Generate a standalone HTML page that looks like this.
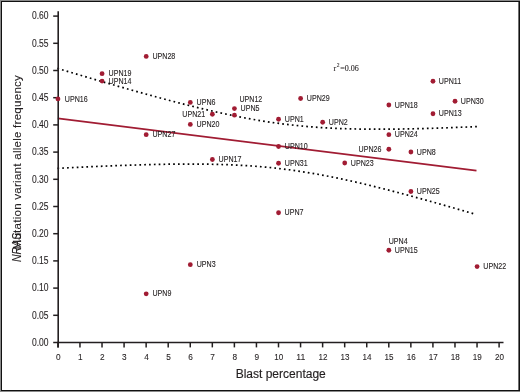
<!DOCTYPE html><html><head><meta charset="utf-8"><style>html,body{margin:0;padding:0;background:#fff;}body{width:520px;height:392px;overflow:hidden;}svg{display:block;will-change:transform;}text{font-family:"Liberation Sans",sans-serif;}</style></head><body>
<svg width="520" height="392" viewBox="0 0 520 392">
<rect x="0" y="0" width="520" height="392" fill="#fff"/>
<rect x="0" y="0" width="520" height="1" fill="#8a8a8a"/>
<rect x="0" y="0" width="1" height="392" fill="#8a8a8a"/>
<rect x="0" y="391" width="520" height="1" fill="#8a8a8a"/>
<rect x="518" y="2" width="1" height="388" fill="#707070"/>
<rect x="1" y="1" width="519" height="1" fill="#111"/>
<rect x="1" y="1" width="1" height="390" fill="#111"/>
<rect x="1" y="390" width="519" height="1" fill="#111"/>
<rect x="519" y="1" width="1" height="390" fill="#111"/>
<path d="M57.39 68.38L59.01 68.87M62.01 69.77L63.64 70.26M66.64 71.15L68.27 71.64M71.27 72.53L72.90 73.02M75.90 73.91L77.53 74.39M80.53 75.28L82.16 75.76M85.16 76.65L86.79 77.13M89.79 78.02L91.42 78.49M94.43 79.38L96.06 79.85M99.06 80.73L100.69 81.21M103.70 82.08L105.33 82.56M108.34 83.43L109.97 83.90M112.98 84.77L114.61 85.24M117.62 86.10L119.25 86.57M122.26 87.43L123.90 87.89M126.91 88.75L128.54 89.21M131.56 90.06L133.19 90.52M136.20 91.37L137.84 91.83M140.86 92.67L142.49 93.12M145.51 93.96L147.15 94.41M150.17 95.24L151.81 95.69M154.83 96.51L156.47 96.96M159.49 97.77L161.13 98.22M164.15 99.03L165.80 99.46M168.82 100.27L170.46 100.70M173.49 101.49L175.14 101.92M178.17 102.71L179.81 103.13M182.84 103.91L184.49 104.33M187.53 105.09L189.18 105.51M192.21 106.26L193.86 106.67M196.90 107.42L198.55 107.82M201.60 108.55L203.25 108.95M206.30 109.67L207.95 110.05M211.00 110.76L212.66 111.14M215.71 111.84L217.37 112.21M220.42 112.89L222.08 113.25M225.14 113.91L226.80 114.27M229.87 114.92L231.53 115.26M234.60 115.89L236.26 116.23M239.33 116.83L241.00 117.16M244.08 117.75L245.75 118.07M248.82 118.63L250.50 118.94M253.58 119.49L255.25 119.78M258.34 120.30L260.01 120.58M263.10 121.09L264.78 121.35M267.87 121.83L269.56 122.09M272.65 122.54L274.33 122.78M277.43 123.21L279.12 123.44M282.22 123.85L283.91 124.06M287.02 124.44L288.70 124.64M291.81 125.00L293.50 125.18M296.62 125.51L298.31 125.69M301.42 125.99L303.11 126.15M306.23 126.43L307.92 126.58M311.04 126.83L312.74 126.97M315.86 127.20L317.55 127.32M320.68 127.53L322.37 127.64M325.50 127.83L327.20 127.93M330.32 128.09L332.02 128.18M335.14 128.32L336.84 128.40M339.97 128.53L341.67 128.59M344.80 128.70L346.50 128.75M349.62 128.84L351.32 128.89M354.45 128.96L356.15 129.00M359.28 129.06L360.98 129.08M364.11 129.13L365.81 129.15M368.94 129.17L370.64 129.19M373.77 129.20L375.47 129.21M378.60 129.21L380.30 129.21M383.43 129.20L385.13 129.19M388.26 129.17L389.96 129.16M393.09 129.13L394.79 129.11M397.92 129.07L399.62 129.04M402.75 128.99L404.45 128.97M407.57 128.91L409.27 128.87M412.40 128.81L414.10 128.77M417.23 128.70L418.93 128.65M422.06 128.57L423.76 128.53M426.89 128.44L428.59 128.39M431.72 128.30L433.41 128.24M436.54 128.15L438.24 128.09M441.37 127.98L443.07 127.93M446.20 127.82L447.90 127.75M451.02 127.64L452.72 127.58M455.85 127.46L457.55 127.39M460.67 127.26L462.37 127.20M465.50 127.07L467.20 127.00M470.33 126.86L472.02 126.79M475.15 126.65L476.85 126.58" fill="none" stroke="#000" stroke-width="1.7"/>
<path d="M57.45 168.31L59.15 168.23M62.27 168.07L63.97 167.98M67.09 167.83L68.79 167.75M71.91 167.59L73.60 167.51M76.73 167.36L78.42 167.28M81.54 167.14L83.24 167.06M86.36 166.92L88.06 166.84M91.18 166.70L92.88 166.62M96.00 166.49L97.70 166.42M100.82 166.28L102.52 166.21M105.64 166.08L107.34 166.01M110.46 165.89L112.16 165.82M115.28 165.70L116.98 165.64M120.11 165.52L121.80 165.46M124.93 165.35L126.63 165.29M129.75 165.19L131.45 165.13M134.57 165.03L136.27 164.98M139.39 164.88L141.09 164.83M144.21 164.75L145.91 164.70M149.04 164.62L150.74 164.58M153.86 164.50L155.56 164.46M158.68 164.40L160.38 164.36M163.51 164.30L165.21 164.27M168.33 164.22L170.03 164.20M173.15 164.16L174.85 164.14M177.98 164.11L179.68 164.09M182.80 164.07L184.50 164.06M187.63 164.05L189.33 164.05M192.45 164.05L194.15 164.06M197.28 164.07L198.98 164.08M202.10 164.11L203.80 164.13M206.92 164.17L208.62 164.20M211.75 164.25L213.45 164.29M216.57 164.36L218.27 164.40M221.39 164.49L223.09 164.54M226.21 164.65L227.91 164.71M231.04 164.84L232.73 164.91M235.85 165.05L237.55 165.14M240.67 165.30L242.37 165.40M245.49 165.58L247.19 165.69M250.30 165.90L252.00 166.01M255.11 166.25L256.81 166.38M259.92 166.63L261.62 166.77M264.73 167.05L266.42 167.21M269.53 167.51L271.22 167.68M274.33 168.01L276.02 168.19M279.13 168.54L280.81 168.74M283.92 169.12L285.60 169.33M288.70 169.73L290.39 169.96M293.48 170.39L295.16 170.62M298.26 171.08L299.94 171.33M303.02 171.80L304.70 172.07M307.79 172.57L309.47 172.84M312.55 173.37L314.22 173.66M317.30 174.20L318.97 174.50M322.04 175.07L323.71 175.38M326.78 175.97L328.45 176.29M331.52 176.90L333.18 177.23M336.24 177.86L337.91 178.20M340.97 178.84L342.63 179.20M345.68 179.86L347.34 180.22M350.40 180.89L352.05 181.26M355.10 181.95L356.76 182.33M359.80 183.04L361.46 183.43M364.50 184.14L366.15 184.54M369.19 185.27L370.84 185.67M373.88 186.41L375.53 186.82M378.56 187.57L380.21 187.98M383.24 188.75L384.89 189.16M387.91 189.94L389.56 190.36M392.58 191.14L394.23 191.57M397.25 192.36L398.90 192.80M401.92 193.60L403.56 194.03M406.58 194.84L408.22 195.28M411.24 196.09L412.88 196.54M415.89 197.36L417.53 197.81M420.54 198.63L422.18 199.09M425.19 199.92L426.83 200.37M429.84 201.21L431.48 201.67M434.49 202.51L436.12 202.97M439.13 203.82L440.77 204.29M443.77 205.14L445.41 205.60M448.41 206.46L450.05 206.93M453.05 207.79L454.68 208.26M457.69 209.13L459.32 209.60M462.32 210.47L463.95 210.94M466.95 211.81L468.59 212.29M471.58 213.16L473.22 213.64" fill="none" stroke="#000" stroke-width="1.7"/>
<line x1="57.8" y1="118.4" x2="476.5" y2="170.6" stroke="#a11c33" stroke-width="1.6"/>
<line x1="58.2" y1="11.3" x2="58.2" y2="347.5" stroke="#231f20" stroke-width="1.6"/>
<line x1="57.4" y1="342.5" x2="503.5" y2="342.5" stroke="#231f20" stroke-width="1.5"/>
<line x1="53.2" y1="342.50" x2="58" y2="342.50" stroke="#231f20" stroke-width="1.5"/>
<text x="48.6" y="345.70" font-size="10" text-anchor="end" fill="#231f20" stroke="#231f20" stroke-width="0.1" textLength="16.6" lengthAdjust="spacingAndGlyphs">0.00</text>
<line x1="53.2" y1="315.30" x2="58" y2="315.30" stroke="#231f20" stroke-width="1.5"/>
<text x="48.6" y="318.50" font-size="10" text-anchor="end" fill="#231f20" stroke="#231f20" stroke-width="0.1" textLength="16.6" lengthAdjust="spacingAndGlyphs">0.05</text>
<line x1="53.2" y1="288.10" x2="58" y2="288.10" stroke="#231f20" stroke-width="1.5"/>
<text x="48.6" y="291.30" font-size="10" text-anchor="end" fill="#231f20" stroke="#231f20" stroke-width="0.1" textLength="16.6" lengthAdjust="spacingAndGlyphs">0.10</text>
<line x1="53.2" y1="260.90" x2="58" y2="260.90" stroke="#231f20" stroke-width="1.5"/>
<text x="48.6" y="264.10" font-size="10" text-anchor="end" fill="#231f20" stroke="#231f20" stroke-width="0.1" textLength="16.6" lengthAdjust="spacingAndGlyphs">0.15</text>
<line x1="53.2" y1="233.70" x2="58" y2="233.70" stroke="#231f20" stroke-width="1.5"/>
<text x="48.6" y="236.90" font-size="10" text-anchor="end" fill="#231f20" stroke="#231f20" stroke-width="0.1" textLength="16.6" lengthAdjust="spacingAndGlyphs">0.20</text>
<line x1="53.2" y1="206.50" x2="58" y2="206.50" stroke="#231f20" stroke-width="1.5"/>
<text x="48.6" y="209.70" font-size="10" text-anchor="end" fill="#231f20" stroke="#231f20" stroke-width="0.1" textLength="16.6" lengthAdjust="spacingAndGlyphs">0.25</text>
<line x1="53.2" y1="179.30" x2="58" y2="179.30" stroke="#231f20" stroke-width="1.5"/>
<text x="48.6" y="182.50" font-size="10" text-anchor="end" fill="#231f20" stroke="#231f20" stroke-width="0.1" textLength="16.6" lengthAdjust="spacingAndGlyphs">0.30</text>
<line x1="53.2" y1="152.10" x2="58" y2="152.10" stroke="#231f20" stroke-width="1.5"/>
<text x="48.6" y="155.30" font-size="10" text-anchor="end" fill="#231f20" stroke="#231f20" stroke-width="0.1" textLength="16.6" lengthAdjust="spacingAndGlyphs">0.35</text>
<line x1="53.2" y1="124.90" x2="58" y2="124.90" stroke="#231f20" stroke-width="1.5"/>
<text x="48.6" y="128.10" font-size="10" text-anchor="end" fill="#231f20" stroke="#231f20" stroke-width="0.1" textLength="16.6" lengthAdjust="spacingAndGlyphs">0.40</text>
<line x1="53.2" y1="97.70" x2="58" y2="97.70" stroke="#231f20" stroke-width="1.5"/>
<text x="48.6" y="100.90" font-size="10" text-anchor="end" fill="#231f20" stroke="#231f20" stroke-width="0.1" textLength="16.6" lengthAdjust="spacingAndGlyphs">0.45</text>
<line x1="53.2" y1="70.50" x2="58" y2="70.50" stroke="#231f20" stroke-width="1.5"/>
<text x="48.6" y="73.70" font-size="10" text-anchor="end" fill="#231f20" stroke="#231f20" stroke-width="0.1" textLength="16.6" lengthAdjust="spacingAndGlyphs">0.50</text>
<line x1="53.2" y1="43.30" x2="58" y2="43.30" stroke="#231f20" stroke-width="1.5"/>
<text x="48.6" y="46.50" font-size="10" text-anchor="end" fill="#231f20" stroke="#231f20" stroke-width="0.1" textLength="16.6" lengthAdjust="spacingAndGlyphs">0.55</text>
<line x1="53.2" y1="16.10" x2="58" y2="16.10" stroke="#231f20" stroke-width="1.5"/>
<text x="48.6" y="19.30" font-size="10" text-anchor="end" fill="#231f20" stroke="#231f20" stroke-width="0.1" textLength="16.6" lengthAdjust="spacingAndGlyphs">0.60</text>
<line x1="57.90" y1="342.5" x2="57.90" y2="347.4" stroke="#231f20" stroke-width="1.5"/>
<text x="58.20" y="359.9" font-size="9.3" text-anchor="middle" fill="#231f20" stroke="#231f20" stroke-width="0.1" textLength="4.6" lengthAdjust="spacingAndGlyphs">0</text>
<line x1="79.96" y1="342.5" x2="79.96" y2="347.4" stroke="#231f20" stroke-width="1.5"/>
<text x="80.26" y="359.9" font-size="9.3" text-anchor="middle" fill="#231f20" stroke="#231f20" stroke-width="0.1" textLength="4.6" lengthAdjust="spacingAndGlyphs">1</text>
<line x1="102.02" y1="342.5" x2="102.02" y2="347.4" stroke="#231f20" stroke-width="1.5"/>
<text x="102.32" y="359.9" font-size="9.3" text-anchor="middle" fill="#231f20" stroke="#231f20" stroke-width="0.1" textLength="4.6" lengthAdjust="spacingAndGlyphs">2</text>
<line x1="124.08" y1="342.5" x2="124.08" y2="347.4" stroke="#231f20" stroke-width="1.5"/>
<text x="124.38" y="359.9" font-size="9.3" text-anchor="middle" fill="#231f20" stroke="#231f20" stroke-width="0.1" textLength="4.6" lengthAdjust="spacingAndGlyphs">3</text>
<line x1="146.14" y1="342.5" x2="146.14" y2="347.4" stroke="#231f20" stroke-width="1.5"/>
<text x="146.44" y="359.9" font-size="9.3" text-anchor="middle" fill="#231f20" stroke="#231f20" stroke-width="0.1" textLength="4.6" lengthAdjust="spacingAndGlyphs">4</text>
<line x1="168.20" y1="342.5" x2="168.20" y2="347.4" stroke="#231f20" stroke-width="1.5"/>
<text x="168.50" y="359.9" font-size="9.3" text-anchor="middle" fill="#231f20" stroke="#231f20" stroke-width="0.1" textLength="4.6" lengthAdjust="spacingAndGlyphs">5</text>
<line x1="190.26" y1="342.5" x2="190.26" y2="347.4" stroke="#231f20" stroke-width="1.5"/>
<text x="190.56" y="359.9" font-size="9.3" text-anchor="middle" fill="#231f20" stroke="#231f20" stroke-width="0.1" textLength="4.6" lengthAdjust="spacingAndGlyphs">6</text>
<line x1="212.32" y1="342.5" x2="212.32" y2="347.4" stroke="#231f20" stroke-width="1.5"/>
<text x="212.62" y="359.9" font-size="9.3" text-anchor="middle" fill="#231f20" stroke="#231f20" stroke-width="0.1" textLength="4.6" lengthAdjust="spacingAndGlyphs">7</text>
<line x1="234.38" y1="342.5" x2="234.38" y2="347.4" stroke="#231f20" stroke-width="1.5"/>
<text x="234.68" y="359.9" font-size="9.3" text-anchor="middle" fill="#231f20" stroke="#231f20" stroke-width="0.1" textLength="4.6" lengthAdjust="spacingAndGlyphs">8</text>
<line x1="256.44" y1="342.5" x2="256.44" y2="347.4" stroke="#231f20" stroke-width="1.5"/>
<text x="256.74" y="359.9" font-size="9.3" text-anchor="middle" fill="#231f20" stroke="#231f20" stroke-width="0.1" textLength="4.6" lengthAdjust="spacingAndGlyphs">9</text>
<line x1="278.50" y1="342.5" x2="278.50" y2="347.4" stroke="#231f20" stroke-width="1.5"/>
<text x="278.80" y="359.9" font-size="9.3" text-anchor="middle" fill="#231f20" stroke="#231f20" stroke-width="0.1" textLength="9.0" lengthAdjust="spacingAndGlyphs">10</text>
<line x1="300.56" y1="342.5" x2="300.56" y2="347.4" stroke="#231f20" stroke-width="1.5"/>
<text x="300.86" y="359.9" font-size="9.3" text-anchor="middle" fill="#231f20" stroke="#231f20" stroke-width="0.1" textLength="9.0" lengthAdjust="spacingAndGlyphs">11</text>
<line x1="322.62" y1="342.5" x2="322.62" y2="347.4" stroke="#231f20" stroke-width="1.5"/>
<text x="322.92" y="359.9" font-size="9.3" text-anchor="middle" fill="#231f20" stroke="#231f20" stroke-width="0.1" textLength="9.0" lengthAdjust="spacingAndGlyphs">12</text>
<line x1="344.68" y1="342.5" x2="344.68" y2="347.4" stroke="#231f20" stroke-width="1.5"/>
<text x="344.98" y="359.9" font-size="9.3" text-anchor="middle" fill="#231f20" stroke="#231f20" stroke-width="0.1" textLength="9.0" lengthAdjust="spacingAndGlyphs">13</text>
<line x1="366.74" y1="342.5" x2="366.74" y2="347.4" stroke="#231f20" stroke-width="1.5"/>
<text x="367.04" y="359.9" font-size="9.3" text-anchor="middle" fill="#231f20" stroke="#231f20" stroke-width="0.1" textLength="9.0" lengthAdjust="spacingAndGlyphs">14</text>
<line x1="388.80" y1="342.5" x2="388.80" y2="347.4" stroke="#231f20" stroke-width="1.5"/>
<text x="389.10" y="359.9" font-size="9.3" text-anchor="middle" fill="#231f20" stroke="#231f20" stroke-width="0.1" textLength="9.0" lengthAdjust="spacingAndGlyphs">15</text>
<line x1="410.86" y1="342.5" x2="410.86" y2="347.4" stroke="#231f20" stroke-width="1.5"/>
<text x="411.16" y="359.9" font-size="9.3" text-anchor="middle" fill="#231f20" stroke="#231f20" stroke-width="0.1" textLength="9.0" lengthAdjust="spacingAndGlyphs">16</text>
<line x1="432.92" y1="342.5" x2="432.92" y2="347.4" stroke="#231f20" stroke-width="1.5"/>
<text x="433.22" y="359.9" font-size="9.3" text-anchor="middle" fill="#231f20" stroke="#231f20" stroke-width="0.1" textLength="9.0" lengthAdjust="spacingAndGlyphs">17</text>
<line x1="454.98" y1="342.5" x2="454.98" y2="347.4" stroke="#231f20" stroke-width="1.5"/>
<text x="455.28" y="359.9" font-size="9.3" text-anchor="middle" fill="#231f20" stroke="#231f20" stroke-width="0.1" textLength="9.0" lengthAdjust="spacingAndGlyphs">18</text>
<line x1="477.04" y1="342.5" x2="477.04" y2="347.4" stroke="#231f20" stroke-width="1.5"/>
<text x="477.34" y="359.9" font-size="9.3" text-anchor="middle" fill="#231f20" stroke="#231f20" stroke-width="0.1" textLength="9.0" lengthAdjust="spacingAndGlyphs">19</text>
<line x1="499.10" y1="342.5" x2="499.10" y2="347.4" stroke="#231f20" stroke-width="1.5"/>
<text x="499.40" y="359.9" font-size="9.3" text-anchor="middle" fill="#231f20" stroke="#231f20" stroke-width="0.1" textLength="9.0" lengthAdjust="spacingAndGlyphs">20</text>
<g transform="translate(21.3,0) rotate(-90)"><text x="-249.5" y="0" font-size="11.6" fill="#231f20" stroke="#231f20" stroke-width="0.1" textLength="174.4" lengthAdjust="spacing">Mutation variant allele frequency</text><text x="-262" y="0" font-size="12" font-style="italic" fill="#231f20" stroke="#231f20" stroke-width="0.1" textLength="29" lengthAdjust="spacingAndGlyphs">NRAS</text></g>
<text x="235.7" y="378.1" font-size="12" fill="#231f20" stroke="#231f20" stroke-width="0.15">Blast percentage</text>
<text x="333.6" y="70.6" font-family="Liberation Serif" style="font-family:'Liberation Serif',serif" font-size="8" fill="#231f20" stroke="#231f20" stroke-width="0.1">r<tspan dy="-3.6" dx="0.5" font-size="5.5">2</tspan><tspan dy="3.6" dx="0.8">=0.06</tspan></text>
<circle cx="57.95" cy="98.95" r="2.4" fill="#a11c33"/>
<text transform="translate(64.80,101.60) scale(0.855,1)" font-size="8.3" fill="#231f20" stroke="#231f20" stroke-width="0.12">UPN16</text>
<circle cx="102.07" cy="73.65" r="2.4" fill="#a11c33"/>
<text transform="translate(108.60,76.30) scale(0.855,1)" font-size="8.3" fill="#231f20" stroke="#231f20" stroke-width="0.12">UPN19</text>
<circle cx="102.07" cy="81.05" r="2.4" fill="#a11c33"/>
<text transform="translate(108.60,83.70) scale(0.855,1)" font-size="8.3" fill="#231f20" stroke="#231f20" stroke-width="0.12">UPN14</text>
<circle cx="146.19" cy="56.40" r="2.4" fill="#a11c33"/>
<text transform="translate(152.45,59.05) scale(0.855,1)" font-size="8.3" fill="#231f20" stroke="#231f20" stroke-width="0.12">UPN28</text>
<circle cx="146.19" cy="134.65" r="2.4" fill="#a11c33"/>
<text transform="translate(152.50,137.30) scale(0.855,1)" font-size="8.3" fill="#231f20" stroke="#231f20" stroke-width="0.12">UPN27</text>
<circle cx="146.19" cy="293.80" r="2.4" fill="#a11c33"/>
<text transform="translate(152.50,296.45) scale(0.855,1)" font-size="8.3" fill="#231f20" stroke="#231f20" stroke-width="0.12">UPN9</text>
<circle cx="190.31" cy="102.45" r="2.4" fill="#a11c33"/>
<text transform="translate(196.60,105.10) scale(0.855,1)" font-size="8.3" fill="#231f20" stroke="#231f20" stroke-width="0.12">UPN6</text>
<circle cx="190.31" cy="124.45" r="2.4" fill="#a11c33"/>
<text transform="translate(196.60,127.10) scale(0.855,1)" font-size="8.3" fill="#231f20" stroke="#231f20" stroke-width="0.12">UPN20</text>
<circle cx="190.31" cy="264.65" r="2.4" fill="#a11c33"/>
<text transform="translate(196.70,267.30) scale(0.855,1)" font-size="8.3" fill="#231f20" stroke="#231f20" stroke-width="0.12">UPN3</text>
<circle cx="212.37" cy="114.25" r="2.4" fill="#a11c33"/>
<text transform="translate(205.20,116.60) scale(0.855,1)" font-size="8.3" fill="#231f20" stroke="#231f20" stroke-width="0.12" text-anchor="end">UPN21</text>
<circle cx="212.37" cy="159.50" r="2.4" fill="#a11c33"/>
<text transform="translate(218.60,162.15) scale(0.855,1)" font-size="8.3" fill="#231f20" stroke="#231f20" stroke-width="0.12">UPN17</text>
<circle cx="234.43" cy="108.55" r="2.4" fill="#a11c33"/>
<text transform="translate(239.40,101.50) scale(0.855,1)" font-size="8.3" fill="#231f20" stroke="#231f20" stroke-width="0.12">UPN12</text>
<circle cx="234.43" cy="115.15" r="2.4" fill="#a11c33"/>
<text transform="translate(240.60,110.70) scale(0.855,1)" font-size="8.3" fill="#231f20" stroke="#231f20" stroke-width="0.12">UPN5</text>
<circle cx="300.61" cy="98.50" r="2.4" fill="#a11c33"/>
<text transform="translate(306.85,101.15) scale(0.855,1)" font-size="8.3" fill="#231f20" stroke="#231f20" stroke-width="0.12">UPN29</text>
<circle cx="278.55" cy="119.25" r="2.4" fill="#a11c33"/>
<text transform="translate(284.85,121.90) scale(0.855,1)" font-size="8.3" fill="#231f20" stroke="#231f20" stroke-width="0.12">UPN1</text>
<circle cx="278.55" cy="146.50" r="2.4" fill="#a11c33"/>
<text transform="translate(284.85,149.15) scale(0.855,1)" font-size="8.3" fill="#231f20" stroke="#231f20" stroke-width="0.12">UPN10</text>
<circle cx="278.55" cy="163.25" r="2.4" fill="#a11c33"/>
<text transform="translate(284.85,165.90) scale(0.855,1)" font-size="8.3" fill="#231f20" stroke="#231f20" stroke-width="0.12">UPN31</text>
<circle cx="278.55" cy="212.75" r="2.4" fill="#a11c33"/>
<text transform="translate(284.60,215.40) scale(0.855,1)" font-size="8.3" fill="#231f20" stroke="#231f20" stroke-width="0.12">UPN7</text>
<circle cx="322.67" cy="122.25" r="2.4" fill="#a11c33"/>
<text transform="translate(328.85,124.90) scale(0.855,1)" font-size="8.3" fill="#231f20" stroke="#231f20" stroke-width="0.12">UPN2</text>
<circle cx="344.73" cy="163.00" r="2.4" fill="#a11c33"/>
<text transform="translate(350.85,165.65) scale(0.855,1)" font-size="8.3" fill="#231f20" stroke="#231f20" stroke-width="0.12">UPN23</text>
<circle cx="388.85" cy="105.00" r="2.4" fill="#a11c33"/>
<text transform="translate(394.85,107.65) scale(0.855,1)" font-size="8.3" fill="#231f20" stroke="#231f20" stroke-width="0.12">UPN18</text>
<circle cx="388.85" cy="134.65" r="2.4" fill="#a11c33"/>
<text transform="translate(394.85,137.30) scale(0.855,1)" font-size="8.3" fill="#231f20" stroke="#231f20" stroke-width="0.12">UPN24</text>
<circle cx="388.85" cy="149.25" r="2.4" fill="#a11c33"/>
<text transform="translate(381.45,151.60) scale(0.855,1)" font-size="8.3" fill="#231f20" stroke="#231f20" stroke-width="0.12" text-anchor="end">UPN26</text>
<circle cx="388.85" cy="250.25" r="2.4" fill="#a11c33"/>
<text transform="translate(394.85,252.90) scale(0.855,1)" font-size="8.3" fill="#231f20" stroke="#231f20" stroke-width="0.12">UPN15</text>
<circle cx="410.91" cy="152.00" r="2.4" fill="#a11c33"/>
<text transform="translate(416.85,154.65) scale(0.855,1)" font-size="8.3" fill="#231f20" stroke="#231f20" stroke-width="0.12">UPN8</text>
<circle cx="410.91" cy="191.50" r="2.4" fill="#a11c33"/>
<text transform="translate(416.85,194.15) scale(0.855,1)" font-size="8.3" fill="#231f20" stroke="#231f20" stroke-width="0.12">UPN25</text>
<circle cx="432.97" cy="81.25" r="2.4" fill="#a11c33"/>
<text transform="translate(438.85,83.90) scale(0.855,1)" font-size="8.3" fill="#231f20" stroke="#231f20" stroke-width="0.12">UPN11</text>
<circle cx="432.97" cy="113.75" r="2.4" fill="#a11c33"/>
<text transform="translate(438.85,116.40) scale(0.855,1)" font-size="8.3" fill="#231f20" stroke="#231f20" stroke-width="0.12">UPN13</text>
<circle cx="455.03" cy="101.25" r="2.4" fill="#a11c33"/>
<text transform="translate(460.85,103.90) scale(0.855,1)" font-size="8.3" fill="#231f20" stroke="#231f20" stroke-width="0.12">UPN30</text>
<circle cx="477.09" cy="266.55" r="2.4" fill="#a11c33"/>
<text transform="translate(483.35,269.20) scale(0.855,1)" font-size="8.3" fill="#231f20" stroke="#231f20" stroke-width="0.12">UPN22</text>
<text transform="translate(388.75,243.50) scale(0.855,1)" font-size="8.3" fill="#231f20" stroke="#231f20" stroke-width="0.12">UPN4</text>
</svg></body></html>
